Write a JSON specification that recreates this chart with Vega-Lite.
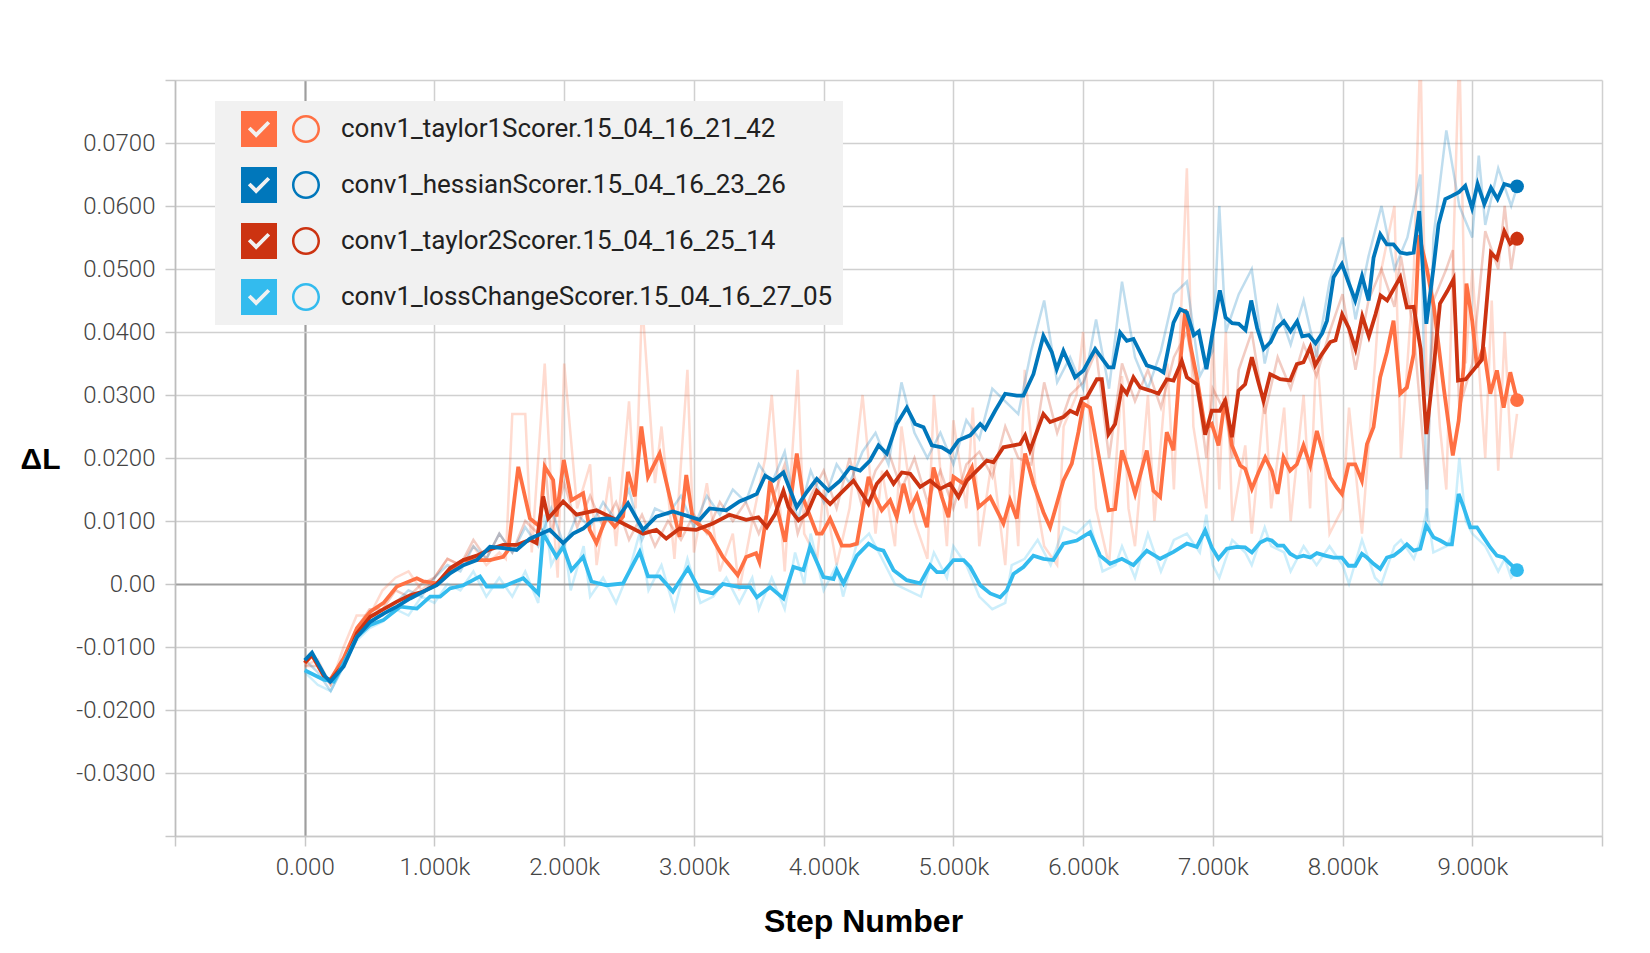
{
  "$schema": "https://vega.github.io/schema/vega-lite/v6.json",
  "width": 1427,
  "height": 756,
  "autosize": {"type": "none"},
  "padding": {"left": 175, "top": 80, "right": 48, "bottom": 117},
  "background": "white",
  "config": {"view": {"stroke": null}},
  "datasets": {
    "runs": [
      {"k": "t1", "run": "conv1_taylor1Scorer.15_04_16_21_42"},
      {"k": "h", "run": "conv1_hessianScorer.15_04_16_23_26"},
      {"k": "t2", "run": "conv1_taylor2Scorer.15_04_16_25_14"},
      {"k": "lc", "run": "conv1_lossChangeScorer.15_04_16_27_05"}
    ],
    "raw": [
      {"k":"t1","step":0,"value":-0.013},{"k":"t1","step":100,"value":-0.012},{"k":"t1","step":200,"value":-0.016},{"k":"t1","step":300,"value":-0.01},{"k":"t1","step":400,"value":-0.005},{"k":"t1","step":500,"value":-0.005},{"k":"t1","step":600,"value":-0.001},{"k":"t1","step":700,"value":0.001},{"k":"t1","step":800,"value":0.002},{"k":"t1","step":900,"value":-0.001},{"k":"t1","step":1000,"value":0.001},{"k":"t1","step":1100,"value":0.004},{"k":"t1","step":1200,"value":0.003},{"k":"t1","step":1300,"value":0.006},{"k":"t1","step":1400,"value":0.003},{"k":"t1","step":1500,"value":0.005},{"k":"t1","step":1550,"value":0.004},{"k":"t1","step":1600,"value":0.027},{"k":"t1","step":1700,"value":0.027},{"k":"t1","step":1750,"value":0.005},{"k":"t1","step":1850,"value":0.035},{"k":"t1","step":1900,"value":0.015},{"k":"t1","step":1950,"value":0.001},{"k":"t1","step":2000,"value":0.035},{"k":"t1","step":2100,"value":0.012},{"k":"t1","step":2200,"value":0.019},{"k":"t1","step":2250,"value":0.003},{"k":"t1","step":2350,"value":0.017},{"k":"t1","step":2400,"value":0.006},{"k":"t1","step":2500,"value":0.029},{"k":"t1","step":2550,"value":0.012},{"k":"t1","step":2600,"value":0.045},{"k":"t1","step":2700,"value":0.016},{"k":"t1","step":2750,"value":0.025},{"k":"t1","step":2850,"value":0.004},{"k":"t1","step":2950,"value":0.034},{"k":"t1","step":3000,"value":0.005},{"k":"t1","step":3100,"value":0.016},{"k":"t1","step":3200,"value":0.002},{"k":"t1","step":3300,"value":0.008},{"k":"t1","step":3350,"value":-0.001},{"k":"t1","step":3450,"value":0.01},{"k":"t1","step":3550,"value":0.02},{"k":"t1","step":3600,"value":0.03},{"k":"t1","step":3700,"value":0.002},{"k":"t1","step":3800,"value":0.034},{"k":"t1","step":3850,"value":0.008},{"k":"t1","step":3950,"value":0.004},{"k":"t1","step":4000,"value":0.015},{"k":"t1","step":4100,"value":0.003},{"k":"t1","step":4200,"value":0.012},{"k":"t1","step":4300,"value":0.03},{"k":"t1","step":4400,"value":0.008},{"k":"t1","step":4450,"value":0.018},{"k":"t1","step":4550,"value":0.006},{"k":"t1","step":4600,"value":0.025},{"k":"t1","step":4700,"value":0.01},{"k":"t1","step":4800,"value":0.004},{"k":"t1","step":4850,"value":0.03},{"k":"t1","step":4950,"value":0.006},{"k":"t1","step":5000,"value":0.026},{"k":"t1","step":5100,"value":0.012},{"k":"t1","step":5150,"value":0.028},{"k":"t1","step":5200,"value":0.006},{"k":"t1","step":5300,"value":0.02},{"k":"t1","step":5400,"value":0.003},{"k":"t1","step":5450,"value":0.02},{"k":"t1","step":5500,"value":0.006},{"k":"t1","step":5550,"value":0.034},{"k":"t1","step":5650,"value":0.012},{"k":"t1","step":5700,"value":0.006},{"k":"t1","step":5800,"value":0.003},{"k":"t1","step":5850,"value":0.025},{"k":"t1","step":5950,"value":0.03},{"k":"t1","step":6000,"value":0.04},{"k":"t1","step":6100,"value":0.012},{"k":"t1","step":6200,"value":0.003},{"k":"t1","step":6300,"value":0.033},{"k":"t1","step":6350,"value":0.012},{"k":"t1","step":6400,"value":0.006},{"k":"t1","step":6500,"value":0.03},{"k":"t1","step":6550,"value":0.01},{"k":"t1","step":6650,"value":0.035},{"k":"t1","step":6700,"value":0.015},{"k":"t1","step":6800,"value":0.066},{"k":"t1","step":6850,"value":0.025},{"k":"t1","step":6950,"value":0.012},{"k":"t1","step":7000,"value":0.04},{"k":"t1","step":7050,"value":0.015},{"k":"t1","step":7100,"value":0.04},{"k":"t1","step":7150,"value":0.01},{"k":"t1","step":7250,"value":0.022},{"k":"t1","step":7300,"value":0.008},{"k":"t1","step":7400,"value":0.03},{"k":"t1","step":7450,"value":0.012},{"k":"t1","step":7550,"value":0.028},{"k":"t1","step":7600,"value":0.01},{"k":"t1","step":7700,"value":0.03},{"k":"t1","step":7750,"value":0.012},{"k":"t1","step":7800,"value":0.038},{"k":"t1","step":7900,"value":0.008},{"k":"t1","step":8000,"value":0.012},{"k":"t1","step":8050,"value":0.028},{"k":"t1","step":8150,"value":0.008},{"k":"t1","step":8250,"value":0.035},{"k":"t1","step":8300,"value":0.05},{"k":"t1","step":8400,"value":0.06},{"k":"t1","step":8450,"value":0.02},{"k":"t1","step":8550,"value":0.05},{"k":"t1","step":8600,"value":0.085},{"k":"t1","step":8650,"value":0.03},{"k":"t1","step":8700,"value":0.04},{"k":"t1","step":8750,"value":0.025},{"k":"t1","step":8800,"value":0.015},{"k":"t1","step":8900,"value":0.085},{"k":"t1","step":8950,"value":0.035},{"k":"t1","step":9000,"value":0.05},{"k":"t1","step":9100,"value":0.02},{"k":"t1","step":9150,"value":0.045},{"k":"t1","step":9200,"value":0.018},{"k":"t1","step":9250,"value":0.04},{"k":"t1","step":9300,"value":0.02},{"k":"t1","step":9345,"value":0.027},
      {"k":"t2","step":0,"value":-0.013},{"k":"t2","step":100,"value":-0.013},{"k":"t2","step":200,"value":-0.016},{"k":"t2","step":300,"value":-0.012},{"k":"t2","step":400,"value":-0.007},{"k":"t2","step":500,"value":-0.004},{"k":"t2","step":600,"value":-0.004},{"k":"t2","step":700,"value":-0.001},{"k":"t2","step":800,"value":-0.002},{"k":"t2","step":900,"value":0.0},{"k":"t2","step":1000,"value":0.001},{"k":"t2","step":1100,"value":0.004},{"k":"t2","step":1200,"value":0.003},{"k":"t2","step":1300,"value":0.007},{"k":"t2","step":1400,"value":0.004},{"k":"t2","step":1500,"value":0.008},{"k":"t2","step":1600,"value":0.005},{"k":"t2","step":1700,"value":0.01},{"k":"t2","step":1800,"value":0.008},{"k":"t2","step":1850,"value":0.02},{"k":"t2","step":1900,"value":0.008},{"k":"t2","step":2000,"value":0.016},{"k":"t2","step":2100,"value":0.009},{"k":"t2","step":2200,"value":0.014},{"k":"t2","step":2300,"value":0.009},{"k":"t2","step":2400,"value":0.013},{"k":"t2","step":2500,"value":0.007},{"k":"t2","step":2600,"value":0.011},{"k":"t2","step":2700,"value":0.006},{"k":"t2","step":2800,"value":0.01},{"k":"t2","step":2900,"value":0.007},{"k":"t2","step":3000,"value":0.011},{"k":"t2","step":3100,"value":0.008},{"k":"t2","step":3200,"value":0.013},{"k":"t2","step":3300,"value":0.01},{"k":"t2","step":3400,"value":0.013},{"k":"t2","step":3500,"value":0.008},{"k":"t2","step":3600,"value":0.013},{"k":"t2","step":3700,"value":0.019},{"k":"t2","step":3800,"value":0.008},{"k":"t2","step":3900,"value":0.014},{"k":"t2","step":4000,"value":0.018},{"k":"t2","step":4100,"value":0.012},{"k":"t2","step":4200,"value":0.02},{"k":"t2","step":4300,"value":0.012},{"k":"t2","step":4400,"value":0.018},{"k":"t2","step":4500,"value":0.021},{"k":"t2","step":4600,"value":0.015},{"k":"t2","step":4700,"value":0.02},{"k":"t2","step":4800,"value":0.013},{"k":"t2","step":4900,"value":0.018},{"k":"t2","step":5000,"value":0.012},{"k":"t2","step":5100,"value":0.019},{"k":"t2","step":5200,"value":0.021},{"k":"t2","step":5300,"value":0.017},{"k":"t2","step":5400,"value":0.025},{"k":"t2","step":5500,"value":0.02},{"k":"t2","step":5600,"value":0.019},{"k":"t2","step":5700,"value":0.032},{"k":"t2","step":5800,"value":0.024},{"k":"t2","step":5900,"value":0.03},{"k":"t2","step":6000,"value":0.032},{"k":"t2","step":6100,"value":0.037},{"k":"t2","step":6200,"value":0.02},{"k":"t2","step":6300,"value":0.035},{"k":"t2","step":6400,"value":0.029},{"k":"t2","step":6500,"value":0.034},{"k":"t2","step":6600,"value":0.028},{"k":"t2","step":6700,"value":0.036},{"k":"t2","step":6800,"value":0.04},{"k":"t2","step":6900,"value":0.028},{"k":"t2","step":6950,"value":0.02},{"k":"t2","step":7000,"value":0.031},{"k":"t2","step":7100,"value":0.027},{"k":"t2","step":7150,"value":0.02},{"k":"t2","step":7200,"value":0.034},{"k":"t2","step":7300,"value":0.04},{"k":"t2","step":7400,"value":0.027},{"k":"t2","step":7500,"value":0.036},{"k":"t2","step":7600,"value":0.031},{"k":"t2","step":7700,"value":0.038},{"k":"t2","step":7800,"value":0.033},{"k":"t2","step":7900,"value":0.04},{"k":"t2","step":8000,"value":0.046},{"k":"t2","step":8100,"value":0.034},{"k":"t2","step":8200,"value":0.045},{"k":"t2","step":8300,"value":0.05},{"k":"t2","step":8400,"value":0.044},{"k":"t2","step":8450,"value":0.052},{"k":"t2","step":8550,"value":0.04},{"k":"t2","step":8650,"value":0.015},{"k":"t2","step":8700,"value":0.045},{"k":"t2","step":8800,"value":0.05},{"k":"t2","step":8850,"value":0.053},{"k":"t2","step":8900,"value":0.028},{"k":"t2","step":9000,"value":0.035},{"k":"t2","step":9100,"value":0.056},{"k":"t2","step":9200,"value":0.05},{"k":"t2","step":9250,"value":0.06},{"k":"t2","step":9300,"value":0.05},{"k":"t2","step":9345,"value":0.056},
      {"k":"lc","step":0,"value":-0.014},{"k":"lc","step":100,"value":-0.016},{"k":"lc","step":200,"value":-0.017},{"k":"lc","step":300,"value":-0.013},{"k":"lc","step":400,"value":-0.009},{"k":"lc","step":500,"value":-0.007},{"k":"lc","step":600,"value":-0.006},{"k":"lc","step":700,"value":-0.004},{"k":"lc","step":800,"value":-0.005},{"k":"lc","step":900,"value":-0.002},{"k":"lc","step":1000,"value":-0.003},{"k":"lc","step":1100,"value":0.0},{"k":"lc","step":1200,"value":-0.001},{"k":"lc","step":1300,"value":0.002},{"k":"lc","step":1400,"value":-0.002},{"k":"lc","step":1500,"value":0.001},{"k":"lc","step":1600,"value":-0.002},{"k":"lc","step":1700,"value":0.002},{"k":"lc","step":1800,"value":-0.003},{"k":"lc","step":1850,"value":0.011},{"k":"lc","step":1900,"value":0.003},{"k":"lc","step":2000,"value":0.007},{"k":"lc","step":2050,"value":-0.001},{"k":"lc","step":2150,"value":0.006},{"k":"lc","step":2200,"value":-0.002},{"k":"lc","step":2300,"value":0.001},{"k":"lc","step":2400,"value":-0.003},{"k":"lc","step":2500,"value":0.002},{"k":"lc","step":2580,"value":0.008},{"k":"lc","step":2650,"value":-0.001},{"k":"lc","step":2750,"value":0.003},{"k":"lc","step":2850,"value":-0.004},{"k":"lc","step":2950,"value":0.004},{"k":"lc","step":3050,"value":-0.003},{"k":"lc","step":3150,"value":-0.002},{"k":"lc","step":3250,"value":0.001},{"k":"lc","step":3350,"value":-0.003},{"k":"lc","step":3450,"value":0.001},{"k":"lc","step":3500,"value":-0.004},{"k":"lc","step":3600,"value":0.001},{"k":"lc","step":3700,"value":-0.004},{"k":"lc","step":3780,"value":0.005},{"k":"lc","step":3850,"value":0.0},{"k":"lc","step":3900,"value":0.008},{"k":"lc","step":4000,"value":-0.001},{"k":"lc","step":4100,"value":0.003},{"k":"lc","step":4150,"value":-0.002},{"k":"lc","step":4250,"value":0.006},{"k":"lc","step":4350,"value":0.008},{"k":"lc","step":4450,"value":0.004},{"k":"lc","step":4550,"value":0.0},{"k":"lc","step":4650,"value":-0.001},{"k":"lc","step":4750,"value":-0.002},{"k":"lc","step":4850,"value":0.005},{"k":"lc","step":4950,"value":0.001},{"k":"lc","step":5000,"value":0.006},{"k":"lc","step":5100,"value":0.003},{"k":"lc","step":5200,"value":-0.002},{"k":"lc","step":5300,"value":-0.004},{"k":"lc","step":5400,"value":-0.003},{"k":"lc","step":5450,"value":0.003},{"k":"lc","step":5550,"value":0.004},{"k":"lc","step":5650,"value":0.007},{"k":"lc","step":5750,"value":0.003},{"k":"lc","step":5850,"value":0.009},{"k":"lc","step":5950,"value":0.008},{"k":"lc","step":6050,"value":0.01},{"k":"lc","step":6150,"value":0.002},{"k":"lc","step":6250,"value":0.003},{"k":"lc","step":6300,"value":0.006},{"k":"lc","step":6400,"value":0.001},{"k":"lc","step":6500,"value":0.008},{"k":"lc","step":6600,"value":0.002},{"k":"lc","step":6700,"value":0.007},{"k":"lc","step":6800,"value":0.008},{"k":"lc","step":6900,"value":0.005},{"k":"lc","step":6950,"value":0.011},{"k":"lc","step":7000,"value":0.003},{"k":"lc","step":7050,"value":0.001},{"k":"lc","step":7150,"value":0.007},{"k":"lc","step":7250,"value":0.005},{"k":"lc","step":7300,"value":0.003},{"k":"lc","step":7400,"value":0.009},{"k":"lc","step":7450,"value":0.006},{"k":"lc","step":7550,"value":0.005},{"k":"lc","step":7600,"value":0.002},{"k":"lc","step":7700,"value":0.006},{"k":"lc","step":7800,"value":0.003},{"k":"lc","step":7900,"value":0.006},{"k":"lc","step":8000,"value":0.003},{"k":"lc","step":8050,"value":0.0},{"k":"lc","step":8150,"value":0.007},{"k":"lc","step":8250,"value":0.001},{"k":"lc","step":8300,"value":0.0},{"k":"lc","step":8400,"value":0.006},{"k":"lc","step":8450,"value":0.007},{"k":"lc","step":8550,"value":0.004},{"k":"lc","step":8600,"value":0.007},{"k":"lc","step":8650,"value":0.012},{"k":"lc","step":8700,"value":0.005},{"k":"lc","step":8800,"value":0.006},{"k":"lc","step":8850,"value":0.008},{"k":"lc","step":8900,"value":0.02},{"k":"lc","step":8950,"value":0.01},{"k":"lc","step":9000,"value":0.008},{"k":"lc","step":9100,"value":0.006},{"k":"lc","step":9150,"value":0.004},{"k":"lc","step":9200,"value":0.002},{"k":"lc","step":9250,"value":0.004},{"k":"lc","step":9300,"value":0.001},{"k":"lc","step":9345,"value":0.002},
      {"k":"h","step":0,"value":-0.012},{"k":"h","step":100,"value":-0.014},{"k":"h","step":200,"value":-0.017},{"k":"h","step":300,"value":-0.013},{"k":"h","step":400,"value":-0.008},{"k":"h","step":500,"value":-0.005},{"k":"h","step":600,"value":-0.005},{"k":"h","step":700,"value":-0.003},{"k":"h","step":800,"value":-0.001},{"k":"h","step":900,"value":-0.002},{"k":"h","step":1000,"value":0.001},{"k":"h","step":1100,"value":0.003},{"k":"h","step":1200,"value":0.002},{"k":"h","step":1300,"value":0.006},{"k":"h","step":1400,"value":0.004},{"k":"h","step":1500,"value":0.008},{"k":"h","step":1600,"value":0.005},{"k":"h","step":1700,"value":0.009},{"k":"h","step":1800,"value":0.006},{"k":"h","step":1900,"value":0.012},{"k":"h","step":2000,"value":0.006},{"k":"h","step":2100,"value":0.011},{"k":"h","step":2200,"value":0.009},{"k":"h","step":2300,"value":0.013},{"k":"h","step":2400,"value":0.01},{"k":"h","step":2500,"value":0.015},{"k":"h","step":2600,"value":0.007},{"k":"h","step":2700,"value":0.012},{"k":"h","step":2800,"value":0.011},{"k":"h","step":2900,"value":0.014},{"k":"h","step":3000,"value":0.009},{"k":"h","step":3100,"value":0.014},{"k":"h","step":3200,"value":0.011},{"k":"h","step":3300,"value":0.015},{"k":"h","step":3400,"value":0.013},{"k":"h","step":3500,"value":0.019},{"k":"h","step":3600,"value":0.016},{"k":"h","step":3700,"value":0.021},{"k":"h","step":3800,"value":0.01},{"k":"h","step":3900,"value":0.018},{"k":"h","step":4000,"value":0.013},{"k":"h","step":4100,"value":0.019},{"k":"h","step":4200,"value":0.016},{"k":"h","step":4300,"value":0.021},{"k":"h","step":4400,"value":0.024},{"k":"h","step":4500,"value":0.019},{"k":"h","step":4600,"value":0.032},{"k":"h","step":4700,"value":0.024},{"k":"h","step":4800,"value":0.02},{"k":"h","step":4900,"value":0.024},{"k":"h","step":5000,"value":0.019},{"k":"h","step":5100,"value":0.026},{"k":"h","step":5200,"value":0.023},{"k":"h","step":5300,"value":0.031},{"k":"h","step":5400,"value":0.029},{"k":"h","step":5500,"value":0.027},{"k":"h","step":5600,"value":0.037},{"k":"h","step":5700,"value":0.045},{"k":"h","step":5800,"value":0.032},{"k":"h","step":5900,"value":0.036},{"k":"h","step":6000,"value":0.031},{"k":"h","step":6100,"value":0.042},{"k":"h","step":6200,"value":0.031},{"k":"h","step":6300,"value":0.048},{"k":"h","step":6400,"value":0.036},{"k":"h","step":6500,"value":0.031},{"k":"h","step":6600,"value":0.037},{"k":"h","step":6700,"value":0.046},{"k":"h","step":6800,"value":0.048},{"k":"h","step":6900,"value":0.033},{"k":"h","step":7000,"value":0.037},{"k":"h","step":7050,"value":0.06},{"k":"h","step":7100,"value":0.04},{"k":"h","step":7200,"value":0.046},{"k":"h","step":7300,"value":0.05},{"k":"h","step":7400,"value":0.035},{"k":"h","step":7500,"value":0.044},{"k":"h","step":7600,"value":0.038},{"k":"h","step":7700,"value":0.045},{"k":"h","step":7800,"value":0.036},{"k":"h","step":7900,"value":0.048},{"k":"h","step":8000,"value":0.055},{"k":"h","step":8100,"value":0.042},{"k":"h","step":8200,"value":0.052},{"k":"h","step":8300,"value":0.06},{"k":"h","step":8400,"value":0.05},{"k":"h","step":8500,"value":0.055},{"k":"h","step":8600,"value":0.065},{"k":"h","step":8650,"value":0.01},{"k":"h","step":8700,"value":0.055},{"k":"h","step":8800,"value":0.072},{"k":"h","step":8900,"value":0.06},{"k":"h","step":9000,"value":0.055},{"k":"h","step":9050,"value":0.068},{"k":"h","step":9100,"value":0.057},{"k":"h","step":9200,"value":0.066},{"k":"h","step":9300,"value":0.06},{"k":"h","step":9345,"value":0.063}
    ],
    "smooth": [
      {"k":"t1","step":0,"value":-0.0126},{"k":"t1","step":56,"value":-0.0113},{"k":"t1","step":159,"value":-0.015},{"k":"t1","step":197,"value":-0.0152},{"k":"t1","step":300,"value":-0.0118},{"k":"t1","step":403,"value":-0.007},{"k":"t1","step":505,"value":-0.0044},{"k":"t1","step":608,"value":-0.003},{"k":"t1","step":710,"value":-0.0004},{"k":"t1","step":864,"value":0.0009},{"k":"t1","step":915,"value":0.0004},{"k":"t1","step":1018,"value":0.0001},{"k":"t1","step":1120,"value":0.0022},{"k":"t1","step":1223,"value":0.0038},{"k":"t1","step":1326,"value":0.0038},{"k":"t1","step":1428,"value":0.0038},{"k":"t1","step":1530,"value":0.0043},{"k":"t1","step":1569,"value":0.0054},{"k":"t1","step":1646,"value":0.0186},{"k":"t1","step":1736,"value":0.0104},{"k":"t1","step":1813,"value":0.0091},{"k":"t1","step":1851,"value":0.0186},{"k":"t1","step":1915,"value":0.0165},{"k":"t1","step":1941,"value":0.0107},{"k":"t1","step":1997,"value":0.0197},{"k":"t1","step":2056,"value":0.0133},{"k":"t1","step":2146,"value":0.0144},{"k":"t1","step":2197,"value":0.0086},{"k":"t1","step":2249,"value":0.0065},{"k":"t1","step":2326,"value":0.0107},{"k":"t1","step":2390,"value":0.0091},{"k":"t1","step":2454,"value":0.0107},{"k":"t1","step":2492,"value":0.0178},{"k":"t1","step":2544,"value":0.0139},{"k":"t1","step":2595,"value":0.025},{"k":"t1","step":2646,"value":0.017},{"k":"t1","step":2736,"value":0.0207},{"k":"t1","step":2813,"value":0.0139},{"k":"t1","step":2890,"value":0.0075},{"k":"t1","step":2941,"value":0.0173},{"k":"t1","step":2992,"value":0.0102},{"k":"t1","step":3121,"value":0.008},{"k":"t1","step":3223,"value":0.0043},{"k":"t1","step":3338,"value":0.0014},{"k":"t1","step":3403,"value":0.0043},{"k":"t1","step":3479,"value":0.0049},{"k":"t1","step":3505,"value":0.0035},{"k":"t1","step":3560,"value":0.011},{"k":"t1","step":3587,"value":0.0164},{"k":"t1","step":3639,"value":0.0122},{"k":"t1","step":3703,"value":0.0067},{"k":"t1","step":3793,"value":0.0207},{"k":"t1","step":3844,"value":0.0135},{"k":"t1","step":3947,"value":0.008},{"k":"t1","step":3986,"value":0.008},{"k":"t1","step":4050,"value":0.0104},{"k":"t1","step":4140,"value":0.0061},{"k":"t1","step":4204,"value":0.0061},{"k":"t1","step":4256,"value":0.0064},{"k":"t1","step":4346,"value":0.017},{"k":"t1","step":4397,"value":0.0138},{"k":"t1","step":4448,"value":0.0117},{"k":"t1","step":4513,"value":0.0133},{"k":"t1","step":4564,"value":0.0106},{"k":"t1","step":4616,"value":0.0159},{"k":"t1","step":4667,"value":0.0119},{"k":"t1","step":4719,"value":0.0141},{"k":"t1","step":4796,"value":0.009},{"k":"t1","step":4847,"value":0.0185},{"k":"t1","step":4911,"value":0.0138},{"k":"t1","step":4962,"value":0.0106},{"k":"t1","step":5001,"value":0.017},{"k":"t1","step":5079,"value":0.0159},{"k":"t1","step":5143,"value":0.0185},{"k":"t1","step":5194,"value":0.0122},{"k":"t1","step":5284,"value":0.0138},{"k":"t1","step":5386,"value":0.0096},{"k":"t1","step":5437,"value":0.0133},{"k":"t1","step":5489,"value":0.0104},{"k":"t1","step":5553,"value":0.0207},{"k":"t1","step":5617,"value":0.0159},{"k":"t1","step":5694,"value":0.0114},{"k":"t1","step":5746,"value":0.009},{"k":"t1","step":5848,"value":0.0164},{"k":"t1","step":5913,"value":0.0191},{"k":"t1","step":5964,"value":0.0241},{"k":"t1","step":6003,"value":0.0286},{"k":"t1","step":6054,"value":0.028},{"k":"t1","step":6131,"value":0.0191},{"k":"t1","step":6196,"value":0.0117},{"k":"t1","step":6247,"value":0.0119},{"k":"t1","step":6299,"value":0.0212},{"k":"t1","step":6350,"value":0.018},{"k":"t1","step":6401,"value":0.0143},{"k":"t1","step":6491,"value":0.0212},{"k":"t1","step":6542,"value":0.0148},{"k":"t1","step":6594,"value":0.0138},{"k":"t1","step":6645,"value":0.0241},{"k":"t1","step":6697,"value":0.0212},{"k":"t1","step":6748,"value":0.0349},{"k":"t1","step":6787,"value":0.0436},{"k":"t1","step":6825,"value":0.0381},{"k":"t1","step":6877,"value":0.0328},{"k":"t1","step":6941,"value":0.0246},{"k":"t1","step":6992,"value":0.0254},{"k":"t1","step":7044,"value":0.022},{"k":"t1","step":7095,"value":0.0294},{"k":"t1","step":7147,"value":0.022},{"k":"t1","step":7211,"value":0.0188},{"k":"t1","step":7249,"value":0.0183},{"k":"t1","step":7301,"value":0.0151},{"k":"t1","step":7352,"value":0.0177},{"k":"t1","step":7404,"value":0.0201},{"k":"t1","step":7455,"value":0.018},{"k":"t1","step":7499,"value":0.0143},{"k":"t1","step":7545,"value":0.0201},{"k":"t1","step":7596,"value":0.018},{"k":"t1","step":7648,"value":0.019},{"k":"t1","step":7699,"value":0.022},{"k":"t1","step":7751,"value":0.0188},{"k":"t1","step":7802,"value":0.0243},{"k":"t1","step":7853,"value":0.0206},{"k":"t1","step":7905,"value":0.0169},{"k":"t1","step":7956,"value":0.0153},{"k":"t1","step":7995,"value":0.0143},{"k":"t1","step":8046,"value":0.019},{"k":"t1","step":8098,"value":0.019},{"k":"t1","step":8149,"value":0.0164},{"k":"t1","step":8188,"value":0.0222},{"k":"t1","step":8239,"value":0.0249},{"k":"t1","step":8290,"value":0.0328},{"k":"t1","step":8342,"value":0.0368},{"k":"t1","step":8393,"value":0.0418},{"k":"t1","step":8445,"value":0.0302},{"k":"t1","step":8496,"value":0.0312},{"k":"t1","step":8548,"value":0.0365},{"k":"t1","step":8589,"value":0.0554},{"k":"t1","step":8650,"value":0.05},{"k":"t1","step":8704,"value":0.044},{"k":"t1","step":8781,"value":0.031},{"k":"t1","step":8850,"value":0.0204},{"k":"t1","step":8895,"value":0.0259},{"k":"t1","step":8933,"value":0.0344},{"k":"t1","step":8955,"value":0.0477},{"k":"t1","step":9000,"value":0.0417},{"k":"t1","step":9036,"value":0.0344},{"k":"t1","step":9087,"value":0.0376},{"k":"t1","step":9139,"value":0.0302},{"k":"t1","step":9190,"value":0.0339},{"k":"t1","step":9242,"value":0.028},{"k":"t1","step":9293,"value":0.0336},{"k":"t1","step":9345,"value":0.0292},
      {"k":"t2","step":0,"value":-0.0125},{"k":"t2","step":56,"value":-0.0112},{"k":"t2","step":159,"value":-0.015},{"k":"t2","step":197,"value":-0.0153},{"k":"t2","step":300,"value":-0.0128},{"k":"t2","step":403,"value":-0.0078},{"k":"t2","step":505,"value":-0.0052},{"k":"t2","step":608,"value":-0.004},{"k":"t2","step":710,"value":-0.0028},{"k":"t2","step":813,"value":-0.0018},{"k":"t2","step":915,"value":-0.0012},{"k":"t2","step":1018,"value":0.0},{"k":"t2","step":1120,"value":0.0025},{"k":"t2","step":1223,"value":0.0038},{"k":"t2","step":1326,"value":0.0045},{"k":"t2","step":1428,"value":0.0055},{"k":"t2","step":1530,"value":0.0062},{"k":"t2","step":1633,"value":0.0062},{"k":"t2","step":1736,"value":0.007},{"k":"t2","step":1787,"value":0.0065},{"k":"t2","step":1838,"value":0.0139},{"k":"t2","step":1877,"value":0.0104},{"k":"t2","step":1992,"value":0.0131},{"k":"t2","step":2095,"value":0.011},{"k":"t2","step":2249,"value":0.0117},{"k":"t2","step":2351,"value":0.0107},{"k":"t2","step":2454,"value":0.0096},{"k":"t2","step":2608,"value":0.008},{"k":"t2","step":2710,"value":0.0086},{"k":"t2","step":2787,"value":0.0072},{"k":"t2","step":2890,"value":0.0088},{"k":"t2","step":3018,"value":0.0086},{"k":"t2","step":3146,"value":0.0096},{"k":"t2","step":3274,"value":0.011},{"k":"t2","step":3403,"value":0.0102},{"k":"t2","step":3497,"value":0.0106},{"k":"t2","step":3562,"value":0.009},{"k":"t2","step":3626,"value":0.0111},{"k":"t2","step":3690,"value":0.0148},{"k":"t2","step":3729,"value":0.0122},{"k":"t2","step":3806,"value":0.0101},{"k":"t2","step":3870,"value":0.0111},{"k":"t2","step":3947,"value":0.0148},{"k":"t2","step":4050,"value":0.0127},{"k":"t2","step":4127,"value":0.0143},{"k":"t2","step":4230,"value":0.0164},{"k":"t2","step":4281,"value":0.0148},{"k":"t2","step":4346,"value":0.0127},{"k":"t2","step":4410,"value":0.0159},{"k":"t2","step":4487,"value":0.0177},{"k":"t2","step":4539,"value":0.0159},{"k":"t2","step":4603,"value":0.0177},{"k":"t2","step":4667,"value":0.0175},{"k":"t2","step":4744,"value":0.0154},{"k":"t2","step":4821,"value":0.0164},{"k":"t2","step":4898,"value":0.0151},{"k":"t2","step":4975,"value":0.0159},{"k":"t2","step":5040,"value":0.0138},{"k":"t2","step":5104,"value":0.0164},{"k":"t2","step":5181,"value":0.018},{"k":"t2","step":5258,"value":0.0196},{"k":"t2","step":5309,"value":0.0193},{"k":"t2","step":5386,"value":0.0217},{"k":"t2","step":5463,"value":0.022},{"k":"t2","step":5514,"value":0.0222},{"k":"t2","step":5553,"value":0.0236},{"k":"t2","step":5591,"value":0.0212},{"k":"t2","step":5656,"value":0.0249},{"k":"t2","step":5694,"value":0.027},{"k":"t2","step":5746,"value":0.0257},{"k":"t2","step":5848,"value":0.0265},{"k":"t2","step":5900,"value":0.0275},{"k":"t2","step":5951,"value":0.027},{"k":"t2","step":5990,"value":0.0294},{"k":"t2","step":6028,"value":0.0296},{"k":"t2","step":6106,"value":0.0325},{"k":"t2","step":6144,"value":0.0325},{"k":"t2","step":6196,"value":0.0238},{"k":"t2","step":6247,"value":0.0254},{"k":"t2","step":6299,"value":0.0312},{"k":"t2","step":6337,"value":0.0302},{"k":"t2","step":6388,"value":0.0328},{"k":"t2","step":6440,"value":0.0312},{"k":"t2","step":6517,"value":0.0307},{"k":"t2","step":6581,"value":0.0302},{"k":"t2","step":6645,"value":0.0325},{"k":"t2","step":6697,"value":0.0323},{"k":"t2","step":6761,"value":0.0354},{"k":"t2","step":6800,"value":0.0328},{"k":"t2","step":6877,"value":0.0317},{"k":"t2","step":6941,"value":0.0237},{"k":"t2","step":6992,"value":0.0275},{"k":"t2","step":7054,"value":0.0275},{"k":"t2","step":7095,"value":0.0291},{"k":"t2","step":7147,"value":0.0233},{"k":"t2","step":7198,"value":0.0307},{"k":"t2","step":7249,"value":0.0317},{"k":"t2","step":7301,"value":0.036},{"k":"t2","step":7352,"value":0.032},{"k":"t2","step":7391,"value":0.0291},{"k":"t2","step":7442,"value":0.0333},{"k":"t2","step":7519,"value":0.0325},{"k":"t2","step":7596,"value":0.0323},{"k":"t2","step":7648,"value":0.0349},{"k":"t2","step":7699,"value":0.0352},{"k":"t2","step":7751,"value":0.0376},{"k":"t2","step":7789,"value":0.0347},{"k":"t2","step":7841,"value":0.0365},{"k":"t2","step":7905,"value":0.0384},{"k":"t2","step":7946,"value":0.0387},{"k":"t2","step":7997,"value":0.0428},{"k":"t2","step":8049,"value":0.0406},{"k":"t2","step":8100,"value":0.0373},{"k":"t2","step":8152,"value":0.0425},{"k":"t2","step":8203,"value":0.0393},{"k":"t2","step":8254,"value":0.0428},{"k":"t2","step":8293,"value":0.0458},{"k":"t2","step":8344,"value":0.045},{"k":"t2","step":8396,"value":0.0469},{"k":"t2","step":8445,"value":0.0487},{"k":"t2","step":8496,"value":0.0439},{"k":"t2","step":8548,"value":0.044},{"k":"t2","step":8602,"value":0.0373},{"k":"t2","step":8646,"value":0.0238},{"k":"t2","step":8704,"value":0.0346},{"k":"t2","step":8751,"value":0.0445},{"k":"t2","step":8808,"value":0.0465},{"k":"t2","step":8856,"value":0.0484},{"k":"t2","step":8890,"value":0.0323},{"k":"t2","step":8950,"value":0.0325},{"k":"t2","step":9010,"value":0.034},{"k":"t2","step":9074,"value":0.0356},{"k":"t2","step":9144,"value":0.0526},{"k":"t2","step":9190,"value":0.0516},{"k":"t2","step":9247,"value":0.056},{"k":"t2","step":9293,"value":0.054},{"k":"t2","step":9345,"value":0.0548},
      {"k":"lc","step":0,"value":-0.0137},{"k":"lc","step":146,"value":-0.0152},{"k":"lc","step":223,"value":-0.0155},{"k":"lc","step":300,"value":-0.0126},{"k":"lc","step":403,"value":-0.0084},{"k":"lc","step":505,"value":-0.0065},{"k":"lc","step":608,"value":-0.0057},{"k":"lc","step":736,"value":-0.0036},{"k":"lc","step":864,"value":-0.0039},{"k":"lc","step":967,"value":-0.002},{"k":"lc","step":1044,"value":-0.002},{"k":"lc","step":1120,"value":-0.0007},{"k":"lc","step":1223,"value":-0.0002},{"k":"lc","step":1351,"value":0.0012},{"k":"lc","step":1403,"value":-0.0004},{"k":"lc","step":1530,"value":-0.0004},{"k":"lc","step":1685,"value":0.0009},{"k":"lc","step":1800,"value":-0.0015},{"k":"lc","step":1838,"value":0.008},{"k":"lc","step":1941,"value":0.0043},{"k":"lc","step":1992,"value":0.0059},{"k":"lc","step":2056,"value":0.0022},{"k":"lc","step":2146,"value":0.0043},{"k":"lc","step":2210,"value":0.0004},{"k":"lc","step":2326,"value":-0.0002},{"k":"lc","step":2454,"value":0.0001},{"k":"lc","step":2582,"value":0.0051},{"k":"lc","step":2646,"value":0.0012},{"k":"lc","step":2736,"value":0.0012},{"k":"lc","step":2838,"value":-0.0012},{"k":"lc","step":2954,"value":0.0025},{"k":"lc","step":3044,"value":-0.001},{"k":"lc","step":3146,"value":-0.0015},{"k":"lc","step":3223,"value":0.0},{"k":"lc","step":3351,"value":-0.0005},{"k":"lc","step":3433,"value":-0.0005},{"k":"lc","step":3485,"value":-0.0021},{"k":"lc","step":3587,"value":-0.0005},{"k":"lc","step":3690,"value":-0.0023},{"k":"lc","step":3767,"value":0.0027},{"k":"lc","step":3844,"value":0.0022},{"k":"lc","step":3896,"value":0.0059},{"k":"lc","step":3999,"value":0.0011},{"k":"lc","step":4076,"value":0.0008},{"k":"lc","step":4101,"value":0.0022},{"k":"lc","step":4153,"value":0.0001},{"k":"lc","step":4256,"value":0.0045},{"k":"lc","step":4346,"value":0.0064},{"k":"lc","step":4410,"value":0.0056},{"k":"lc","step":4461,"value":0.0053},{"k":"lc","step":4539,"value":0.0022},{"k":"lc","step":4641,"value":0.0006},{"k":"lc","step":4744,"value":0.0001},{"k":"lc","step":4821,"value":0.003},{"k":"lc","step":4873,"value":0.0019},{"k":"lc","step":4924,"value":0.0019},{"k":"lc","step":5001,"value":0.0038},{"k":"lc","step":5079,"value":0.0038},{"k":"lc","step":5130,"value":0.0027},{"k":"lc","step":5207,"value":-0.0002},{"k":"lc","step":5284,"value":-0.0015},{"k":"lc","step":5361,"value":-0.0021},{"k":"lc","step":5412,"value":-0.001},{"k":"lc","step":5463,"value":0.0016},{"k":"lc","step":5540,"value":0.0027},{"k":"lc","step":5617,"value":0.0045},{"k":"lc","step":5694,"value":0.004},{"k":"lc","step":5771,"value":0.0038},{"k":"lc","step":5848,"value":0.0064},{"k":"lc","step":5951,"value":0.0069},{"k":"lc","step":6054,"value":0.0082},{"k":"lc","step":6131,"value":0.0045},{"k":"lc","step":6208,"value":0.0032},{"k":"lc","step":6299,"value":0.004},{"k":"lc","step":6388,"value":0.003},{"k":"lc","step":6491,"value":0.0053},{"k":"lc","step":6594,"value":0.004},{"k":"lc","step":6697,"value":0.0051},{"k":"lc","step":6800,"value":0.0064},{"k":"lc","step":6877,"value":0.0059},{"k":"lc","step":6941,"value":0.0085},{"k":"lc","step":6992,"value":0.0058},{"k":"lc","step":7044,"value":0.004},{"k":"lc","step":7108,"value":0.0056},{"k":"lc","step":7185,"value":0.0059},{"k":"lc","step":7249,"value":0.0058},{"k":"lc","step":7301,"value":0.005},{"k":"lc","step":7365,"value":0.0066},{"k":"lc","step":7416,"value":0.0071},{"k":"lc","step":7455,"value":0.0069},{"k":"lc","step":7499,"value":0.0061},{"k":"lc","step":7545,"value":0.0061},{"k":"lc","step":7596,"value":0.0048},{"k":"lc","step":7648,"value":0.0042},{"k":"lc","step":7699,"value":0.0045},{"k":"lc","step":7751,"value":0.0042},{"k":"lc","step":7802,"value":0.0049},{"k":"lc","step":7866,"value":0.0045},{"k":"lc","step":7931,"value":0.0042},{"k":"lc","step":7995,"value":0.0042},{"k":"lc","step":8046,"value":0.0029},{"k":"lc","step":8098,"value":0.0029},{"k":"lc","step":8149,"value":0.0048},{"k":"lc","step":8188,"value":0.0042},{"k":"lc","step":8239,"value":0.0032},{"k":"lc","step":8290,"value":0.0024},{"k":"lc","step":8342,"value":0.0042},{"k":"lc","step":8393,"value":0.0045},{"k":"lc","step":8445,"value":0.0053},{"k":"lc","step":8496,"value":0.0063},{"k":"lc","step":8548,"value":0.0053},{"k":"lc","step":8599,"value":0.0056},{"k":"lc","step":8645,"value":0.0093},{"k":"lc","step":8702,"value":0.0074},{"k":"lc","step":8753,"value":0.0069},{"k":"lc","step":8805,"value":0.0063},{"k":"lc","step":8843,"value":0.0063},{"k":"lc","step":8895,"value":0.0143},{"k":"lc","step":8933,"value":0.0122},{"k":"lc","step":8985,"value":0.009},{"k":"lc","step":9036,"value":0.009},{"k":"lc","step":9087,"value":0.0074},{"k":"lc","step":9139,"value":0.0058},{"k":"lc","step":9190,"value":0.0045},{"k":"lc","step":9242,"value":0.0042},{"k":"lc","step":9293,"value":0.0032},{"k":"lc","step":9345,"value":0.0022},
      {"k":"h","step":0,"value":-0.0121},{"k":"h","step":56,"value":-0.0109},{"k":"h","step":159,"value":-0.0147},{"k":"h","step":197,"value":-0.0155},{"k":"h","step":300,"value":-0.0131},{"k":"h","step":403,"value":-0.0084},{"k":"h","step":505,"value":-0.006},{"k":"h","step":608,"value":-0.0047},{"k":"h","step":710,"value":-0.0036},{"k":"h","step":813,"value":-0.0023},{"k":"h","step":915,"value":-0.0012},{"k":"h","step":1018,"value":-0.0002},{"k":"h","step":1120,"value":0.0017},{"k":"h","step":1223,"value":0.003},{"k":"h","step":1326,"value":0.0038},{"k":"h","step":1428,"value":0.0059},{"k":"h","step":1530,"value":0.0057},{"k":"h","step":1633,"value":0.0054},{"k":"h","step":1736,"value":0.0072},{"k":"h","step":1813,"value":0.0079},{"k":"h","step":1890,"value":0.0086},{"k":"h","step":1992,"value":0.0065},{"k":"h","step":2069,"value":0.008},{"k":"h","step":2146,"value":0.0088},{"k":"h","step":2223,"value":0.0102},{"k":"h","step":2326,"value":0.0104},{"k":"h","step":2403,"value":0.0102},{"k":"h","step":2492,"value":0.0128},{"k":"h","step":2608,"value":0.0086},{"k":"h","step":2710,"value":0.0107},{"k":"h","step":2838,"value":0.0115},{"k":"h","step":2967,"value":0.0107},{"k":"h","step":3044,"value":0.0102},{"k":"h","step":3121,"value":0.012},{"k":"h","step":3249,"value":0.0117},{"k":"h","step":3351,"value":0.0131},{"k":"h","step":3433,"value":0.0138},{"k":"h","step":3485,"value":0.0143},{"k":"h","step":3549,"value":0.0172},{"k":"h","step":3613,"value":0.0164},{"k":"h","step":3690,"value":0.0177},{"k":"h","step":3793,"value":0.0122},{"k":"h","step":3870,"value":0.0146},{"k":"h","step":3947,"value":0.0167},{"k":"h","step":4037,"value":0.0148},{"k":"h","step":4127,"value":0.0164},{"k":"h","step":4204,"value":0.0185},{"k":"h","step":4281,"value":0.018},{"k":"h","step":4358,"value":0.0196},{"k":"h","step":4423,"value":0.022},{"k":"h","step":4487,"value":0.0207},{"k":"h","step":4564,"value":0.0254},{"k":"h","step":4641,"value":0.028},{"k":"h","step":4705,"value":0.0254},{"k":"h","step":4770,"value":0.0249},{"k":"h","step":4834,"value":0.022},{"k":"h","step":4911,"value":0.0217},{"k":"h","step":4975,"value":0.0209},{"k":"h","step":5040,"value":0.0228},{"k":"h","step":5130,"value":0.0236},{"k":"h","step":5207,"value":0.0254},{"k":"h","step":5245,"value":0.0246},{"k":"h","step":5322,"value":0.0275},{"k":"h","step":5399,"value":0.0302},{"k":"h","step":5489,"value":0.0299},{"k":"h","step":5540,"value":0.0299},{"k":"h","step":5617,"value":0.0333},{"k":"h","step":5694,"value":0.0394},{"k":"h","step":5759,"value":0.0368},{"k":"h","step":5797,"value":0.0341},{"k":"h","step":5848,"value":0.037},{"k":"h","step":5938,"value":0.0328},{"k":"h","step":6003,"value":0.0339},{"k":"h","step":6093,"value":0.0373},{"k":"h","step":6196,"value":0.0344},{"k":"h","step":6234,"value":0.0344},{"k":"h","step":6286,"value":0.0399},{"k":"h","step":6337,"value":0.0386},{"k":"h","step":6388,"value":0.0389},{"k":"h","step":6491,"value":0.0347},{"k":"h","step":6581,"value":0.0341},{"k":"h","step":6620,"value":0.0336},{"k":"h","step":6697,"value":0.0415},{"k":"h","step":6748,"value":0.0436},{"k":"h","step":6800,"value":0.0431},{"k":"h","step":6853,"value":0.0395},{"k":"h","step":6892,"value":0.0401},{"k":"h","step":6951,"value":0.0341},{"k":"h","step":6995,"value":0.0395},{"k":"h","step":7054,"value":0.0466},{"k":"h","step":7098,"value":0.0423},{"k":"h","step":7149,"value":0.0414},{"k":"h","step":7200,"value":0.0413},{"k":"h","step":7252,"value":0.0403},{"k":"h","step":7296,"value":0.045},{"k":"h","step":7342,"value":0.0406},{"k":"h","step":7393,"value":0.0373},{"k":"h","step":7445,"value":0.0384},{"k":"h","step":7496,"value":0.0406},{"k":"h","step":7548,"value":0.0417},{"k":"h","step":7599,"value":0.0401},{"k":"h","step":7650,"value":0.0417},{"k":"h","step":7689,"value":0.0393},{"k":"h","step":7740,"value":0.0395},{"k":"h","step":7792,"value":0.0382},{"k":"h","step":7843,"value":0.0398},{"k":"h","step":7880,"value":0.0418},{"k":"h","step":7931,"value":0.0487},{"k":"h","step":7995,"value":0.0508},{"k":"h","step":8049,"value":0.0477},{"k":"h","step":8098,"value":0.045},{"k":"h","step":8150,"value":0.0489},{"k":"h","step":8201,"value":0.045},{"k":"h","step":8239,"value":0.0518},{"k":"h","step":8291,"value":0.0555},{"k":"h","step":8342,"value":0.0539},{"k":"h","step":8393,"value":0.0539},{"k":"h","step":8445,"value":0.0526},{"k":"h","step":8496,"value":0.0524},{"k":"h","step":8548,"value":0.0526},{"k":"h","step":8591,"value":0.0592},{"k":"h","step":8646,"value":0.0413},{"k":"h","step":8700,"value":0.05},{"k":"h","step":8740,"value":0.0571},{"k":"h","step":8792,"value":0.0611},{"k":"h","step":8843,"value":0.0616},{"k":"h","step":8897,"value":0.0622},{"k":"h","step":8946,"value":0.0632},{"k":"h","step":8998,"value":0.0597},{"k":"h","step":9041,"value":0.0635},{"k":"h","step":9093,"value":0.0603},{"k":"h","step":9144,"value":0.0629},{"k":"h","step":9195,"value":0.0611},{"k":"h","step":9247,"value":0.0635},{"k":"h","step":9293,"value":0.0632},{"k":"h","step":9345,"value":0.0631}
    ]
  },
  "encoding": {
    "x": {
      "field": "step",
      "type": "quantitative",
      "scale": {"domain": [-1000, 10000], "nice": false, "zero": false},
      "axis": {
        "values": [-1000, 0, 1000, 2000, 3000, 4000, 5000, 6000, 7000, 8000, 9000, 10000],
        "labelExpr": "datum.value === 0 ? '0.000' : (datum.value < 0 || datum.value > 9500) ? '' : format(datum.value / 1000, '.3f') + 'k'",
        "labelOverlap": false,
        "labelFlush": false,
        "labelFont": "Roboto",
        "labelFontWeight": 300,
        "labelFontSize": 24,
        "labelColor": "#444444",
        "labelPadding": 9,
        "grid": true,
        "gridColor": {"condition": {"test": "datum.value === 0", "value": "#9e9e9e"}, "value": "#d0d0d0"},
        "gridWidth": {"condition": {"test": "datum.value === 0", "value": 2.2}, "value": 1.5},
        "domainColor": "#c8c8c8",
        "domainWidth": 1.5,
        "tickColor": "#c8c8c8",
        "tickWidth": 1.5,
        "tickSize": 10,
        "title": "Step Number",
        "titleFont": "Liberation Sans",
        "titleFontSize": 32,
        "titleFontWeight": "bold",
        "titleColor": "#000000",
        "titleX": 688,
        "titleY": 95,
        "titleAlign": "center",
        "titleBaseline": "alphabetic"
      }
    },
    "y": {
      "field": "value",
      "type": "quantitative",
      "scale": {"domain": [-0.04, 0.08], "nice": false, "zero": false},
      "axis": {
        "values": [-0.04, -0.03, -0.02, -0.01, 0, 0.01, 0.02, 0.03, 0.04, 0.05, 0.06, 0.07, 0.08],
        "labelExpr": "datum.value === 0 ? '0.00' : (datum.value < -0.035 || datum.value > 0.075) ? '' : (datum.value < 0 ? '-' : '') + format(abs(datum.value), '.4f')",
        "labelOverlap": false,
        "labelFont": "Roboto",
        "labelFontWeight": 300,
        "labelFontSize": 24,
        "labelColor": "#444444",
        "labelPadding": 10,
        "grid": true,
        "gridColor": {"condition": {"test": "datum.value === 0", "value": "#9e9e9e"}, "value": "#d0d0d0"},
        "gridWidth": {"condition": {"test": "datum.value === 0", "value": 2.2}, "value": 1.5},
        "domainColor": "#bdbdbd",
        "domainWidth": 1.5,
        "tickColor": "#c8c8c8",
        "tickWidth": 1.5,
        "tickSize": 10,
        "title": "ΔL",
        "titleFont": "Liberation Sans",
        "titleFontSize": 30,
        "titleFontWeight": "bold",
        "titleColor": "#000000",
        "titleAngle": 0,
        "titleX": -135,
        "titleY": 388,
        "titleAlign": "center",
        "titleBaseline": "alphabetic"
      }
    },
    "color": {
      "field": "run",
      "type": "nominal",
      "scale": {
        "domain": ["conv1_taylor1Scorer.15_04_16_21_42", "conv1_hessianScorer.15_04_16_23_26", "conv1_taylor2Scorer.15_04_16_25_14", "conv1_lossChangeScorer.15_04_16_27_05"],
        "range": ["#ff7043", "#0077bb", "#cc3311", "#33bbee"]
      },
      "legend": {
        "title": null,
        "orient": "none",
        "legendX": 40,
        "legendY": 21,
        "direction": "vertical",
        "padding": 10,
        "rowPadding": 20,
        "fillColor": "#f1f1f1",
        "symbolType": "M-1,-1L1,-1L1,1L-1,1Z M-0.62,0.02L-0.16,0.48L0.62,-0.3L0.47,-0.45L-0.16,0.18L-0.47,-0.13Z M3.39,0C3.39,0.431 3.041,0.78 2.61,0.78C2.179,0.78 1.83,0.431 1.83,0C1.83,-0.431 2.179,-0.78 2.61,-0.78C3.041,-0.78 3.39,-0.431 3.39,0Z M3.25,0C3.25,-0.3535 2.9635,-0.64 2.61,-0.64C2.2565,-0.64 1.97,-0.3535 1.97,0C1.97,0.3535 2.2565,0.64 2.61,0.64C2.9635,0.64 3.25,0.3535 3.25,0Z",
        "symbolSize": 1296,
        "symbolStrokeWidth": 0,
        "symbolOpacity": 1,
        "symbolOffset": 16,
        "labelOffset": 64,
        "labelFont": "Roboto",
        "labelFontSize": 26,
        "labelColor": "#212121",
        "labelLimit": 800
      }
    }
  },
  "layer": [
    {
      "data": {"name": "raw"},
      "transform": [{"lookup": "k", "from": {"data": {"name": "runs"}, "key": "k", "fields": ["run"]}}],
      "mark": {"type": "line", "strokeWidth": 2.5, "opacity": 0.25, "clip": true}
    },
    {
      "data": {"name": "smooth"},
      "transform": [{"lookup": "k", "from": {"data": {"name": "runs"}, "key": "k", "fields": ["run"]}}],
      "mark": {"type": "line", "strokeWidth": 3.8, "clip": true}
    },
    {
      "data": {"name": "smooth"},
      "transform": [
        {"filter": "datum.step >= 9345"},
        {"lookup": "k", "from": {"data": {"name": "runs"}, "key": "k", "fields": ["run"]}}
      ],
      "mark": {"type": "point", "filled": true, "size": 190, "opacity": 1, "strokeWidth": 0}
    }
  ]
}
